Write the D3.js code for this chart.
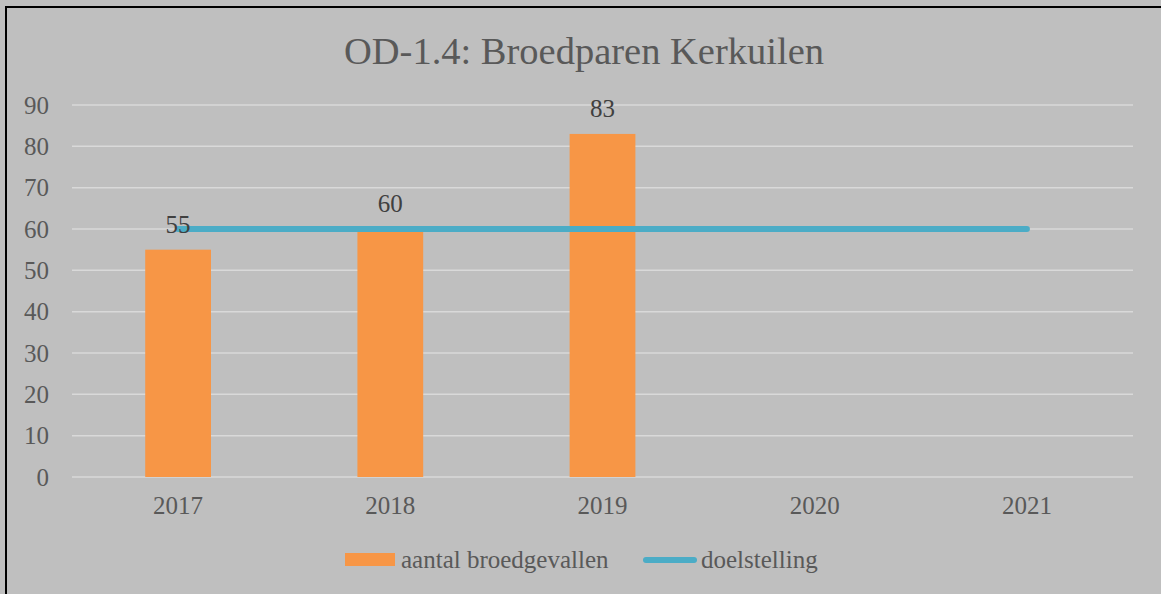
<!DOCTYPE html>
<html>
<head>
<meta charset="utf-8">
<script src="https://cdn.jsdelivr.net/npm/d3@7"></script>
<style>
  body { margin: 0; background: #bfbfbf; overflow: hidden; }
  svg { display: block; }
  text { font-family: 'Liberation Serif', serif; fill: #595959; }
</style>
</head>
<body>
<svg id="chart"></svg>
<script>
var years = ['2017', '2018', '2019', '2020', '2021']
var broedgevallen = [55, 60, 83, null, null]
var doelstelling = [60, 60, 60, 60, 60]
var yTicks = [0, 10, 20, 30, 40, 50, 60, 70, 80, 90]
var title = 'OD-1.4: Broedparen Kerkuilen'
var seriesNames = ['aantal broedgevallen', 'doelstelling']

var W = 1161, H = 594
var svg = d3.select('#chart').attr('width', W).attr('height', H)

svg.append('rect').attr('width', W).attr('height', H).attr('fill', '#bfbfbf')
// outer frame: only its top and left edges are inside the picture
svg.append('path')
  .attr('d', `M6,${H} V7 H${W}`)
  .attr('fill', 'none').attr('stroke', '#000').attr('stroke-width', 2)

var x = d3.scaleBand().domain(years).range([72, 1133])
var y = d3.scaleLinear().domain([0, 90]).range([477, 105])

svg.append('text').text(title)
  .attr('x', 584).attr('y', 64)
  .attr('text-anchor', 'middle')
  .style('font-size', '38.5px')

// gridlines
svg.append('g').selectAll('line').data(yTicks).join('line')
  .attr('x1', 72).attr('x2', 1133)
  .attr('y1', d => y(d)).attr('y2', d => y(d))
  .attr('stroke', '#d9d9d9').attr('stroke-width', 1.5)

var yAxis = svg.append('g').attr('transform', 'translate(72,0)')
  .call(d3.axisLeft(y).tickValues(yTicks).tickSize(0).tickPadding(23))
yAxis.select('.domain').remove()
yAxis.selectAll('text').style('font-size', '25px').attr('fill', '#595959')
  .style('font-family', "'Liberation Serif', serif")

var xAxis = svg.append('g').attr('transform', 'translate(0,477)')
  .call(d3.axisBottom(x).tickSize(0).tickPadding(19))
xAxis.select('.domain').remove()
xAxis.selectAll('text').style('font-size', '25px').attr('fill', '#595959')
  .style('font-family', "'Liberation Serif', serif")

var bw = x.bandwidth() * 0.31
var barData = years.map((d, i) => ({year: d, v: broedgevallen[i]})).filter(d => d.v != null)

svg.append('g').selectAll('rect').data(barData).join('rect')
  .attr('x', d => x(d.year) + x.bandwidth()/2 - bw/2)
  .attr('width', bw)
  .attr('y', d => y(d.v))
  .attr('height', d => y(0) - y(d.v))
  .attr('fill', '#f79646')

var line = d3.line()
  .x((d, i) => x(years[i]) + x.bandwidth()/2)
  .y(d => y(d))
svg.append('path').datum(doelstelling)
  .attr('d', line)
  .attr('fill', 'none').attr('stroke', '#4bacc6')
  .attr('stroke-width', 6).attr('stroke-linecap', 'round')

svg.append('g').selectAll('text').data(barData).join('text')
  .text(d => d.v)
  .attr('x', d => x(d.year) + x.bandwidth()/2)
  .attr('y', d => y(d.v) - 17)
  .attr('text-anchor', 'middle')
  .style('font-size', '25px').style('fill', '#404040')

// legend
var lg = svg.append('g')
lg.append('rect').attr('x', 345).attr('y', 553).attr('width', 50).attr('height', 13).attr('fill', '#f79646')
lg.append('text').text(seriesNames[0]).attr('x', 401).attr('y', 568).style('font-size', '25px')
lg.append('line').attr('x1', 646).attr('x2', 694).attr('y1', 560).attr('y2', 560)
  .attr('stroke', '#4bacc6').attr('stroke-width', 6).attr('stroke-linecap', 'round')
lg.append('text').text(seriesNames[1]).attr('x', 701).attr('y', 568).style('font-size', '25px')
</script>
</body>
</html>
